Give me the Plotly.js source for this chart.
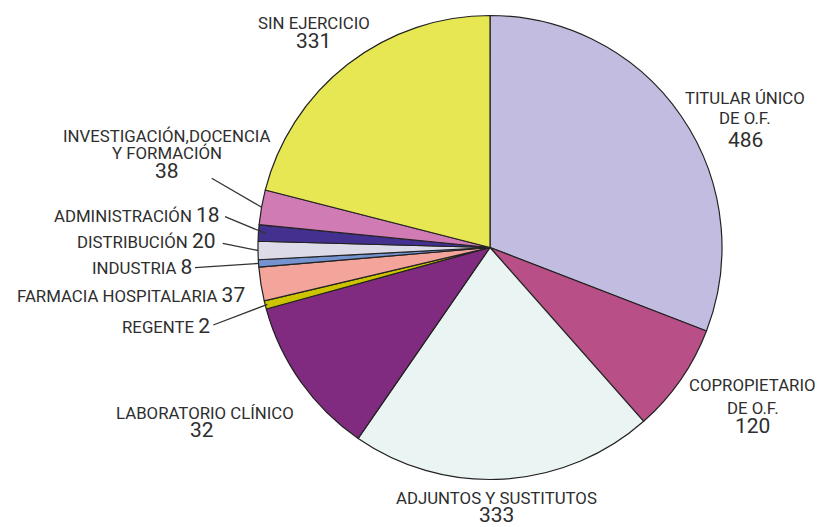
<!DOCTYPE html>
<html>
<head>
<meta charset="utf-8">
<script src="https://cdn.plot.ly/plotly-3.0.1.min.js"></script>
<style>
  html, body { margin: 0; padding: 0; background: #ffffff; }
  #chart { width: 820px; height: 527px; }
</style>
</head>
<body>
<div id="chart"></div>
<script>
// ---- data ----
const categories = [
  "TITULAR ÚNICO DE O.F.", "COPROPIETARIO DE O.F.", "ADJUNTOS Y SUSTITUTOS",
  "LABORATORIO CLÍNICO", "REGENTE", "FARMACIA HOSPITALARIA", "INDUSTRIA",
  "DISTRIBUCIÓN", "ADMINISTRACIÓN", "INVESTIGACIÓN,DOCENCIA Y FORMACIÓN", "SIN EJERCICIO"
];
// numbers printed on the labels
const printedValues = [486, 120, 333, 32, 2, 37, 8, 20, 18, 38, 331];
// slice sizes as drawn in the picture
const sliceValues = [486, 120, 333, 175, 9, 37, 8, 20, 18, 38, 331];
// label text lines
const labelLines = [
  ["TITULAR ÚNICO", "DE O.F."],
  ["COPROPIETARIO", "DE O.F."],
  ["ADJUNTOS Y SUSTITUTOS"],
  ["LABORATORIO CLÍNICO"],
  ["REGENTE"],
  ["FARMACIA HOSPITALARIA"],
  ["INDUSTRIA"],
  ["DISTRIBUCIÓN"],
  ["ADMINISTRACIÓN"],
  ["INVESTIGACIÓN,DOCENCIA", "Y FORMACIÓN"],
  ["SIN EJERCICIO"]
];

// ---- styles / layout ----
const colors = ["#c2bde0", "#b84f86", "#eaf5f3", "#812b80", "#cdc400", "#f3a59c",
                "#7593cf", "#dedbe9", "#44308e", "#d07bb3", "#e7e754"];
const W = 820, H = 527;
const FONT = "Roboto, 'Liberation Sans', sans-serif";
const TXT = "#2e2e2e";
const LBL = 16.8, NUM = 21;
const dom = { x: [(490 - 232) / W, (490 + 232) / W], y: [(H - 247.5 - 232) / H, (H - 247.5 + 232) / H] };

// label placement in pixels (stack: centred lines with number below; inline: right-aligned "TEXT N")
const labelPlace = [
  { mode: "stack", x: 745, numX: 745.7, base: [103.3, 123.3], numBase: 147.3 },
  { mode: "stack", x: 752.5, numX: 752.5, base: [390.7, 413.3], numBase: 433.3 },
  { mode: "stack", x: 496.3, numX: 496.3, base: [503.3], numBase: 521.7 },
  { mode: "stack", x: 205.3, numX: 201.7, base: [418.3], numBase: 436.7 },
  { mode: "inline", x: 210.7, base: 333.3, lineFrom: [213.3, 325], r: 0.99 },
  { mode: "inline", x: 246, base: 301.7 },
  { mode: "inline", x: 192.7, base: 274, lineFrom: [195, 267.7], r: 1.0 },
  { mode: "inline", x: 216.7, base: 248.3, lineFrom: [222.7, 243.3], r: 1.0 },
  { mode: "inline", x: 220.7, base: 221.7, lineFrom: [225, 216.7], r: 0.97 },
  { mode: "stack", x: 166.7, numX: 167, base: [141.7, 158.3], numBase: 178.3, lineFrom: [211.7, 178.3], r: 1.0 },
  { mode: "stack", x: 314, numX: 313, base: [28.3], numBase: 48.3 }
];

const px2x = p => p / W;
const px2y = p => 1 - p / H;
const mid = (base, size) => base - 0.34 * size;

const annotations = [];
const shapes = [];

// slice geometry from the data (clockwise from 12 o'clock)
const total = sliceValues.reduce((a, b) => a + b, 0);
const cx = (dom.x[0] + dom.x[1]) / 2 * W;
const cy = (1 - (dom.y[0] + dom.y[1]) / 2) * H;
const R = Math.min((dom.x[1] - dom.x[0]) * W, (dom.y[1] - dom.y[0]) * H) / 2;
let cum = 0;

categories.forEach((cat, i) => {
  const a0 = cum / total * 2 * Math.PI;
  cum += sliceValues[i];
  const a1 = cum / total * 2 * Math.PI;
  const am = (a0 + a1) / 2;
  const p = labelPlace[i];
  const common = { xref: "paper", yref: "paper", showarrow: false, borderpad: 0,
                   font: { family: FONT, color: TXT, size: LBL } };
  if (p.mode === "stack") {
    labelLines[i].forEach((t, k) => {
      annotations.push(Object.assign({}, common, {
        text: t, x: px2x(p.x), y: px2y(mid(p.base[k], LBL)), xanchor: "center", yanchor: "middle"
      }));
    });
    annotations.push(Object.assign({}, common, {
      text: String(printedValues[i]), x: px2x(p.numX), y: px2y(mid(p.numBase, NUM)),
      xanchor: "center", yanchor: "middle", font: { family: FONT, color: TXT, size: NUM }
    }));
  } else {
    annotations.push(Object.assign({}, common, {
      text: labelLines[i][0] + " <span style='font-size:" + NUM + "px'>" + printedValues[i] + "</span>",
      x: px2x(p.x), y: px2y(mid(p.base, NUM)), xanchor: "right", yanchor: "middle"
    }));
  }
  if (p.lineFrom) {
    const ex = cx + p.r * R * Math.sin(am);
    const ey = cy - p.r * R * Math.cos(am);
    shapes.push({
      type: "line", xref: "paper", yref: "paper",
      x0: px2x(p.lineFrom[0]), y0: px2y(p.lineFrom[1]), x1: px2x(ex), y1: px2y(ey),
      line: { color: "#333333", width: 1.3 }
    });
  }
});

const trace = {
  type: "pie",
  labels: categories,
  values: sliceValues,
  sort: false,
  direction: "clockwise",
  rotation: 0,
  textinfo: "none",
  hoverinfo: "label+value",
  showlegend: false,
  domain: dom,
  marker: { colors: colors, line: { color: "#222222", width: 1.2 } }
};

const layout = {
  width: W, height: H,
  margin: { l: 0, r: 0, t: 0, b: 0, pad: 0 },
  paper_bgcolor: "#ffffff",
  plot_bgcolor: "#ffffff",
  showlegend: false,
  font: { family: FONT, color: TXT },
  annotations: annotations,
  shapes: shapes
};

Plotly.newPlot("chart", [trace], layout, { staticPlot: true, displayModeBar: false });
</script>
</body>
</html>
